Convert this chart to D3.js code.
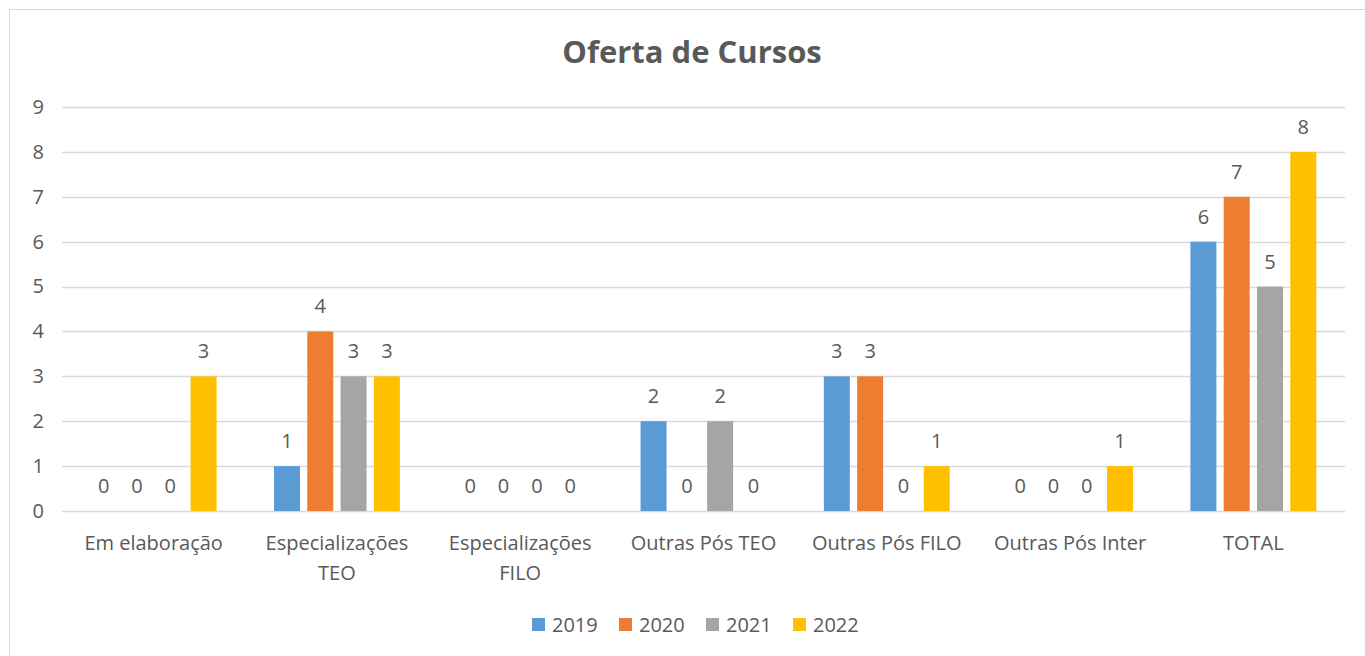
<!DOCTYPE html>
<html>
<head>
<meta charset="utf-8">
<script src="https://cdn.jsdelivr.net/npm/d3@7"></script>
<style>
  body { margin: 0; background: #fff; }
  text { font-family: "Open Sans", "Noto Sans", sans-serif; fill: #595959; }
</style>
</head>
<body>
<div id="viz_div"></div>
<script>
// DATA
const categories = [["Em elaboração"], ["Especializações", "TEO"], ["Especializações", "FILO"], ["Outras Pós TEO"], ["Outras Pós FILO"], ["Outras Pós Inter"], ["TOTAL"]];
const years = ["2019", "2020", "2021", "2022"];
const v2019 = [0, 1, 0, 2, 3, 0, 6];
const v2020 = [0, 4, 0, 0, 3, 0, 7];
const v2021 = [0, 3, 0, 2, 0, 0, 5];
const v2022 = [3, 3, 0, 0, 1, 1, 8];
const yTicks = [0, 1, 2, 3, 4, 5, 6, 7, 8, 9];
const colors = ["#5B9BD5", "#ED7D31", "#A5A5A5", "#FFC000"];

const series = [v2019, v2020, v2021, v2022];

const W = 1365, H = 656;
const FS = "20px";

const svg = d3.select("#viz_div").append("svg")
    .attr("width", W)
    .attr("height", H);

// chart frame
svg.append("rect")
    .attr("x", 9.5).attr("y", 9.5)
    .attr("width", W + 20).attr("height", H + 20)
    .attr("fill", "none").attr("stroke", "#d9d9d9").attr("stroke-width", 1);

// SCALES
const x = d3.scaleBand()
    .domain(d3.range(categories.length))
    .range([62, 1345])
    .padding(0);

const xs = d3.scaleBand()
    .domain(years)
    .range([-66.6, 66.6])
    .paddingInner(0.22)
    .paddingOuter(0.11);

const y = d3.scaleLinear([0, 9], [511, 107]);

// GRIDLINES
svg.append("g").selectAll("line")
    .data(yTicks)
    .enter()
    .append("line")
    .attr("x1", 62).attr("x2", 1345)
    .attr("y1", d => Math.round(y(d)) + 0.5)
    .attr("y2", d => Math.round(y(d)) + 0.5)
    .attr("stroke", "#d9d9d9").attr("stroke-width", 1.3);

// Y AXIS LABELS
const yAxis = svg.append("g")
    .attr("transform", "translate(44,0)")
    .call(d3.axisLeft(y).tickValues(yTicks).tickSize(0).tickPadding(0).tickFormat(d3.format("d")));
yAxis.select(".domain").remove();
yAxis.selectAll("text")
    .style("font-size", FS)
    .style("fill", "#595959")
    .style("font-family", "'Open Sans', sans-serif");

// BARS
const groups = svg.append("g").selectAll("g")
    .data(series)
    .enter()
    .append("g")
    .attr("fill", (d, i) => colors[i]);

groups.each(function (vals, si) {
    const g = d3.select(this);
    g.selectAll("rect")
        .data(vals)
        .enter()
        .append("rect")
        .attr("x", (d, ci) => x(ci) + x.bandwidth() / 2 + xs(years[si]))
        .attr("width", xs.bandwidth())
        .attr("y", d => y(d))
        .attr("height", d => y(0) - y(d));

    g.selectAll("text")
        .data(vals)
        .enter()
        .append("text")
        .attr("x", (d, ci) => x(ci) + x.bandwidth() / 2 + xs(years[si]) + xs.bandwidth() / 2)
        .attr("y", d => y(d) - 18)
        .attr("text-anchor", "middle")
        .style("font-size", FS)
        .text(d => d);
});

// CATEGORY LABELS
const catLabels = svg.append("g").selectAll("text")
    .data(categories)
    .enter()
    .append("text")
    .attr("x", (d, i) => x(i) + x.bandwidth() / 2)
    .attr("y", 550)
    .attr("text-anchor", "middle")
    .style("font-size", FS);

catLabels.selectAll("tspan")
    .data(d => d)
    .enter()
    .append("tspan")
    .attr("x", function () { return d3.select(this.parentNode).attr("x"); })
    .attr("dy", (d, i) => i === 0 ? 0 : 30)
    .text(d => d);

// TITLE
svg.append("text")
    .attr("x", 692)
    .attr("y", 63)
    .attr("text-anchor", "middle")
    .style("font-size", "31px")
    .style("font-weight", "bold")
    .text("Oferta de Cursos");

// LEGEND
const legend = svg.append("g").selectAll("g")
    .data(years)
    .enter()
    .append("g")
    .attr("transform", (d, i) => `translate(${532 + i * 87},618)`);

legend.append("rect")
    .attr("width", 13).attr("height", 13)
    .attr("fill", (d, i) => colors[i]);

legend.append("text")
    .attr("x", 20)
    .attr("y", 14)
    .style("font-size", FS)
    .text(d => d);
</script>
</body>
</html>
